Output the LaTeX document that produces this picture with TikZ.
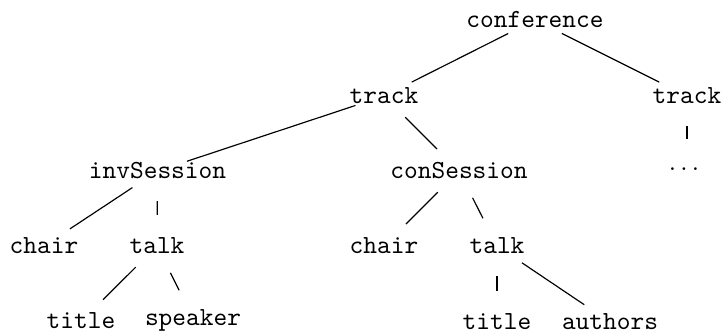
\documentclass[tikz,border=0pt]{standalone}
\begin{document}
\begin{tikzpicture}[x=0.383pt,y=-0.383pt,
  lbl/.style={font=\ttfamily, inner sep=0pt, anchor=base, text height=6.1pt, text depth=0.75pt},
  edge/.style={draw, line width=0.45pt, shorten <=11.5pt, shorten >=11.9pt}]
\useasboundingbox (0,0) rectangle (722,331);
\node[lbl] (conf) at (535,27) {conference};
\node[lbl] (trackL) at (384,103) {track};
\node[lbl] (trackR) at (687,103) {track};
\node[lbl] (dots) at (684,170) {$\ldots$};
\node[lbl] (inv) at (157.5,178) {invSession};
\node[lbl] (con) at (459,178) {conSession};
\node[lbl] (chairL) at (44,253) {chair};
\node[lbl] (talkL) at (157,253) {talk};
\node[lbl] (chairM) at (384,253) {chair};
\node[lbl] (talkM) at (497,253) {talk};
\node[lbl] (titleL) at (81,328.5) {title};
\node[lbl] (speaker) at (193,325) {speaker};
\node[lbl] (titleR) at (497,329) {title};
\node[lbl] (authors) at (610,329) {authors};
\path[edge] (conf.center) -- (trackL.center);
\path[edge] (conf.center) -- (trackR.center);
\path[edge] (trackL.center) -- (inv.center);
\path[edge] (trackL.center) -- (con.center);
\path[edge, shorten >=9.2pt] (trackR.center) -- (trackR.center |- dots.center);
\path[edge] (inv.center) -- (chairL.center);
\path[edge] (inv.center) -- (talkL.center);
\path[edge] (talkL.center) -- (titleL.center);
\path[edge] (talkL.center) -- (speaker.center);
\path[edge] (con.center) -- (chairM.center);
\path[edge] (con.center) -- (talkM.center);
\path[edge] (talkM.center) -- (titleR.center);
\path[edge] (talkM.center) -- (authors.center);
\end{tikzpicture}
\end{document}
